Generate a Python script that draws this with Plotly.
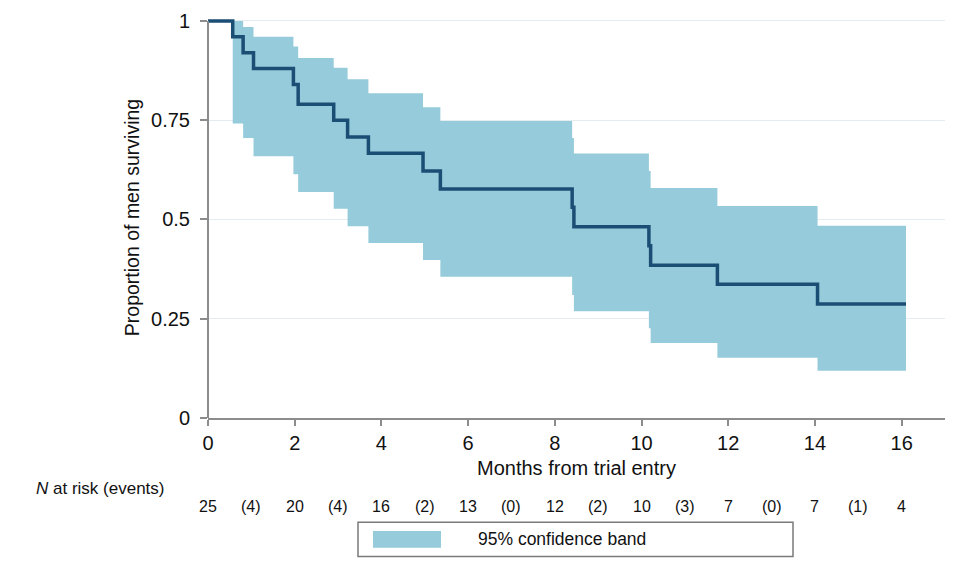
import plotly.graph_objects as go

# ---- data ----
km_time = [0, 0.57, 0.81, 1.05, 1.97, 2.08, 2.90, 3.22, 3.70, 4.96, 5.36, 8.40, 8.44, 10.17, 10.21, 11.75, 14.06, 16.1]
km_surv = [1.0, 0.96, 0.92, 0.88, 0.84, 0.79, 0.75, 0.708, 0.667, 0.622, 0.577, 0.531, 0.482, 0.434, 0.385, 0.337, 0.287, 0.287]

ci_time = [0.57, 0.81, 1.05, 1.97, 2.08, 2.90, 3.22, 3.70, 4.96, 5.36, 8.40, 8.44, 10.17, 10.21, 11.75, 14.06, 16.1]
ci_upper = [1.0, 0.985, 0.96, 0.936, 0.907, 0.882, 0.853, 0.818, 0.783, 0.748, 0.705, 0.666, 0.622, 0.579, 0.534, 0.484, 0.484]
ci_lower = [0.742, 0.705, 0.659, 0.614, 0.569, 0.527, 0.483, 0.441, 0.398, 0.356, 0.31, 0.269, 0.226, 0.189, 0.152, 0.119, 0.119]

risk_pos = list(range(0, 17))
risk_labels = ["25", "(4)", "20", "(4)", "16", "(2)", "13", "(0)", "12", "(2)", "10", "(3)", "7", "(0)", "7", "(1)", "4"]

x_ticks = [0, 2, 4, 6, 8, 10, 12, 14, 16]
y_ticks = [0, 0.25, 0.5, 0.75, 1]
y_tick_labels = ["0", "0.25", "0.5", "0.75", "1"]

# ---- styling ----
W, H = 960, 572
ML, MR, MT, MB = 208, 15, 10, 154
PW, PH = W - ML - MR, H - MT - MB
FONT = "Liberation Sans, Arial, Helvetica, sans-serif"
BAND = "#96cbdb"
LINE = "#1b4e74"
AXIS = "#8c8c8c"
GRID = "#e4ecf0"
TXT = "#111111"


def px_x(p):
    return (p - ML) / PW


def px_y(p):
    return (H - MB - p) / PH


fig = go.Figure()
fig.add_trace(go.Scatter(x=ci_time, y=ci_lower, mode="lines", line=dict(width=0, shape="hv"),
                         showlegend=False, hoverinfo="skip"))
fig.add_trace(go.Scatter(x=ci_time, y=ci_upper, mode="lines", line=dict(width=0, shape="hv"),
                         fill="tonexty", fillcolor=BAND, showlegend=False, hoverinfo="skip"))
fig.add_trace(go.Scatter(x=km_time, y=km_surv, mode="lines", line=dict(width=3.5, color=LINE, shape="hv"),
                         showlegend=False))

annotations = []
for xp, lab in zip(risk_pos, risk_labels):
    annotations.append(dict(x=xp, y=px_y(508), xref="x", yref="paper", text=lab, showarrow=False,
                            xanchor="center", yanchor="middle", font=dict(family=FONT, size=16, color=TXT)))
annotations.append(dict(x=px_x(34), y=px_y(490), xref="paper", yref="paper", text="<i>N</i> at risk (events)",
                        showarrow=False, xanchor="left", yanchor="middle",
                        font=dict(family=FONT, size=17, color=TXT)))
annotations.append(dict(x=px_x(476), y=px_y(541), xref="paper", yref="paper", text="95% confidence band",
                        showarrow=False, xanchor="left", yanchor="middle",
                        font=dict(family=FONT, size=17.5, color=TXT)))

shapes = [
    # y axis line
    dict(type="line", xref="paper", yref="y", x0=0, x1=0, y0=0, y1=1, line=dict(color=AXIS, width=2)),
    # legend box
    dict(type="rect", xref="paper", yref="paper", x0=px_x(358), x1=px_x(793), y0=px_y(559), y1=px_y(524),
         line=dict(color="#7a7a7a", width=1.5), fillcolor="white"),
    dict(type="rect", xref="paper", yref="paper", x0=px_x(373), x1=px_x(441), y0=px_y(550), y1=px_y(533),
         line=dict(width=0), fillcolor=BAND),
]

fig.update_layout(
    width=W, height=H,
    margin=dict(l=ML, r=MR, t=MT, b=MB),
    paper_bgcolor="white", plot_bgcolor="white",
    font=dict(family=FONT, size=20, color=TXT),
    annotations=annotations, shapes=shapes,
    xaxis=dict(range=[0, 17], tickvals=x_ticks, showgrid=False, zeroline=False,
               showline=True, linecolor=AXIS, linewidth=2, ticks="outside", ticklen=6,
               tickcolor=AXIS, tickwidth=1.5, tickfont=dict(size=20), ticklabelstandoff=0,
               title=dict(text="Months from trial entry", font=dict(size=20), standoff=8)),
    yaxis=dict(range=[0, 1.01], tickvals=y_ticks, ticktext=y_tick_labels, showgrid=True,
               gridcolor=GRID, gridwidth=1, zeroline=False, showline=False,
               ticks="outside", ticklen=7, tickcolor=AXIS, tickwidth=1.5, tickfont=dict(size=20),
               ticklabelstandoff=6,
               title=dict(text="Proportion of men surviving", font=dict(size=19.5), standoff=6)),
)

fig.write_html("out.html")
